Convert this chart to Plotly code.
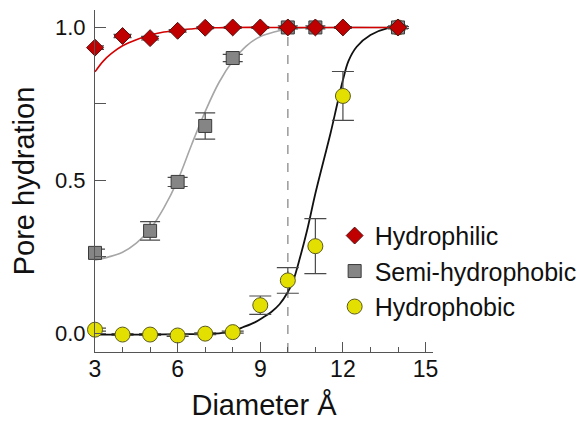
import plotly.graph_objects as go

# ---- data ----
diam_philic = [3, 4, 5, 6, 7, 8, 9, 10, 11, 12, 14]
hyd_philic = [0.934, 0.972, 0.965, 0.989, 0.999, 1.0, 1.0, 1.0, 1.0, 1.0, 1.0]
err_philic = [0.006, 0.005, 0.006, 0.004, 0.003, 0.003, 0.003, 0.003, 0.003, 0.003, 0.003]

diam_semi = [3, 5, 6, 7, 8, 10, 11, 14]
hyd_semi = [0.263, 0.335, 0.495, 0.678, 0.90, 1.0, 1.0, 1.0]
err_semi = [0.012, 0.03, 0.015, 0.043, 0.012, 0.005, 0.005, 0.005]

diam_phobic = [3, 4, 5, 6, 7, 8, 9, 10, 11, 12, 14]
hyd_phobic = [0.012, -0.004, -0.004, -0.007, -0.001, 0.004, 0.092, 0.173, 0.285, 0.776, 1.0]
err_phobic = [0.005, 0.003, 0.003, 0.003, 0.003, 0.003, 0.03, 0.042, 0.09, 0.08, 0.003]

# fitted curves
fit_philic_x = [3, 3.3, 3.6, 4, 4.5, 5, 5.5, 6, 6.5, 7, 7.5, 8, 9, 10, 11, 12, 13, 14.3]
fit_philic_y = [0.855, 0.89, 0.915, 0.94, 0.96, 0.975, 0.985, 0.991, 0.995, 0.998, 0.999,
                1.0, 1.0, 1.0, 1.0, 1.0, 1.0, 1.0]

fit_semi_x = [3, 3.5, 4, 4.5, 5, 5.5, 6, 6.5, 7, 7.5, 8, 8.5, 9, 9.5, 10, 11, 12, 13, 14]
fit_semi_y = [0.24, 0.25, 0.265, 0.295, 0.34, 0.41, 0.50, 0.615, 0.725, 0.82, 0.89, 0.94,
              0.97, 0.985, 0.994, 0.999, 1.0, 1.0, 1.0]

fit_phobic_x = [3, 4, 5, 6, 7, 7.5, 8, 8.4, 8.8, 9.1, 9.4, 9.7, 10, 10.2, 10.45, 10.7, 11,
                11.3, 11.55, 11.8, 12, 12.2, 12.5, 13, 13.6, 14.1]
fit_phobic_y = [-0.004, -0.004, -0.004, -0.003, -0.002, 0.0, 0.008, 0.021, 0.036, 0.052,
                0.07, 0.095, 0.135, 0.173, 0.25, 0.337, 0.457, 0.565, 0.654, 0.752, 0.828,
                0.89, 0.937, 0.975, 0.997, 1.0]

x_ticks = [3, 6, 9, 12, 15]
y_ticks = [0.0, 0.5, 1.0]
y_tick_text = ["0.0", "0.5", "1.0"]
threshold_diam = 10

names = ["Hydrophilic", "Semi-hydrophobic", "Hydrophobic"]

FONT = "Liberation Sans, Arial, sans-serif"
ERR_COL = "#4a4a4a"
AX_COL = "#555555"

fig = go.Figure()

# fit curves
fig.add_trace(go.Scatter(x=fit_semi_x, y=fit_semi_y, mode="lines", showlegend=False,
                         line=dict(color="#a6a6a6", width=1.6, shape="spline"),
                         hoverinfo="skip", cliponaxis=False))
fig.add_trace(go.Scatter(x=fit_phobic_x, y=fit_phobic_y, mode="lines", showlegend=False,
                         line=dict(color="#111111", width=1.8, shape="spline"),
                         hoverinfo="skip", cliponaxis=False))
fig.add_trace(go.Scatter(x=fit_philic_x, y=fit_philic_y, mode="lines", showlegend=False,
                         line=dict(color="#d40000", width=1.6, shape="spline"),
                         hoverinfo="skip", cliponaxis=False))

# markers (hydrophobic at bottom, hydrophilic on top)
fig.add_trace(go.Scatter(
    x=diam_phobic, y=hyd_phobic, mode="markers", name=names[2],
    legendgroup="c", legendrank=3,
    marker=dict(symbol="circle", size=15, color="#e3df00",
                line=dict(color="#5a5a20", width=1)),
    error_y=dict(type="data", array=err_phobic, color=ERR_COL, thickness=1.2, width=11),
    cliponaxis=False))
fig.add_trace(go.Scatter(
    x=diam_semi, y=hyd_semi, mode="markers", name=names[1],
    legendgroup="b", legendrank=2,
    marker=dict(symbol="square", size=13, color="#858585",
                line=dict(color="#3a3a3a", width=1)),
    error_y=dict(type="data", array=err_semi, color=ERR_COL, thickness=1.2, width=10),
    cliponaxis=False))
fig.add_trace(go.Scatter(
    x=diam_philic, y=hyd_philic, mode="markers", name=names[0],
    legendgroup="a", legendrank=1,
    marker=dict(symbol="diamond", size=13, color="#c00000",
                line=dict(color="#5a1010", width=1)),
    error_y=dict(type="data", array=err_philic, color=ERR_COL, thickness=1.2, width=9),
    cliponaxis=False))

fig.add_vline(x=threshold_diam, line=dict(color="#a0a0a0", width=1.6, dash="dash"),
              layer="below")

# the page body adds an 8 px offset, so the figure is drawn 8 px smaller/shifted
fig.update_layout(
    width=578, height=413,
    margin=dict(l=87, r=152.7, t=2, b=69.3, autoexpand=False),
    paper_bgcolor="white", plot_bgcolor="white",
    font=dict(family=FONT, color="#111111"),
    showlegend=True,
    legend=dict(x=0.709, y=0.407, xanchor="left", yanchor="top",
                bgcolor="rgba(0,0,0,0)", font=dict(size=25, family=FONT),
                tracegroupgap=0, itemwidth=30),
    xaxis=dict(range=[3, 15.27], showgrid=False, zeroline=False, automargin=False,
               showline=True, linecolor=AX_COL, linewidth=1.2,
               tickmode="array", tickvals=x_ticks, ticks="inside", ticklen=10,
               tickwidth=1.2, tickcolor=AX_COL,
               minor=dict(dtick=1, ticks="inside", ticklen=5, tickwidth=1.2,
                          tickcolor=AX_COL, showgrid=False),
               tickfont=dict(size=23), ticklabelstandoff=-4,
               title=dict(text="Diameter Å", font=dict(size=29), standoff=13)),
    yaxis=dict(range=[-0.061, 1.057], showgrid=False, zeroline=False, automargin=False,
               showline=True, linecolor=AX_COL, linewidth=1.2,
               tickmode="array", tickvals=y_ticks, ticktext=y_tick_text,
               ticks="inside", ticklen=11, tickwidth=1.2, tickcolor=AX_COL,
               minor=dict(tickvals=[0.25, 0.75], ticks="inside", ticklen=11,
                          tickwidth=1.2, tickcolor=AX_COL, showgrid=False),
               tickfont=dict(size=22), ticklabelstandoff=4,
               title=dict(text="Pore hydration", font=dict(size=29), standoff=14)),
)

fig.write_html("out.html")
